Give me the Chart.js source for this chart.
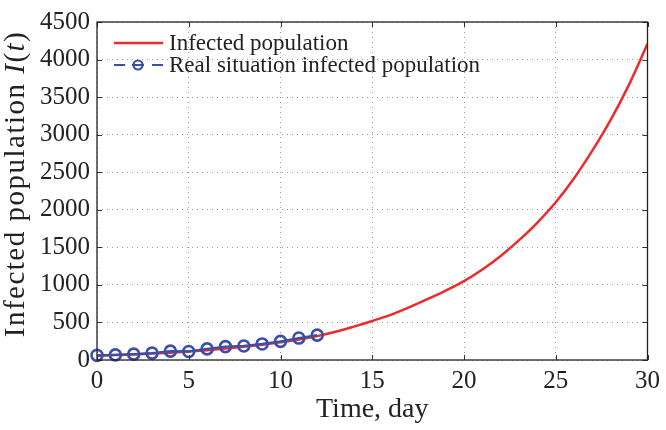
<!DOCTYPE html>
<html>
<head>
<meta charset="utf-8">
<script src="https://cdn.jsdelivr.net/npm/chart.js@4.4.1/dist/chart.umd.min.js"></script>
<style>
  html, body { margin: 0; padding: 0; background: #fff; }
  canvas { display: block; }
</style>
</head>
<body>
<canvas id="infChart" width="666" height="430"></canvas>
<script>
// model curve (day -> infected)
const days = [0, 1, 2, 3, 4, 5, 6, 7, 8, 9, 10, 11, 12, 13, 14, 15, 16, 17, 18, 19, 20, 21, 22, 23, 24, 25, 26, 27, 28, 29, 30];
const modelInfected = [58, 65, 74, 85, 98, 113, 131, 152, 176, 204, 236, 272, 318, 375, 445, 520, 600, 700, 810, 925, 1050, 1205, 1385, 1595, 1830, 2100, 2420, 2790, 3200, 3670, 4210];

// observed points
const realDays = [0, 1, 2, 3, 4, 5, 6, 7, 8, 9, 10, 11, 12];
const realInfected = [62, 68, 78, 92, 118, 114, 148, 178, 187, 214, 248, 292, 331];

const xTicks = [0, 5, 10, 15, 20, 25, 30];
const yTicks = [0, 500, 1000, 1500, 2000, 2500, 3000, 3500, 4000, 4500];

const labels = ["Infected population", "Real situation infected population"];
const RED = "#ee2a2a";
const BLUE = "#3a4fa8";
const SERIF = "'Liberation Serif', 'DejaVu Serif', serif";

// frame, inward ticks, y title and legend drawn on top of the chart
const decorations = {
    id: "decorations",
    afterDraw(chart) {
        const ctx = chart.ctx;
        const a = chart.chartArea;
        const xs = chart.scales.x, ys = chart.scales.y;
        ctx.save();

        // inward tick marks
        ctx.strokeStyle = "#333";
        ctx.lineWidth = 1;
        ctx.beginPath();
        xTicks.forEach(v => {
            const px = Math.round(xs.getPixelForValue(v)) + 0.5;
            ctx.moveTo(px, a.bottom); ctx.lineTo(px, a.bottom - 5);
            ctx.moveTo(px, a.top); ctx.lineTo(px, a.top + 5);
        });
        yTicks.forEach(v => {
            const py = Math.round(ys.getPixelForValue(v)) + 0.5;
            ctx.moveTo(a.left, py); ctx.lineTo(a.left + 5, py);
            ctx.moveTo(a.right, py); ctx.lineTo(a.right - 5, py);
        });
        ctx.stroke();

        // box
        ctx.strokeStyle = "#222";
        ctx.lineWidth = 1.3;
        ctx.strokeRect(a.left, a.top, a.right - a.left, a.bottom - a.top);

        // y title with italic I(t)
        ctx.fillStyle = "#222";
        ctx.textBaseline = "middle";
        ctx.translate(16, 184);
        ctx.rotate(-Math.PI / 2);
        ctx.letterSpacing = "1.5px";
        const plainFont = "29px " + SERIF;
        const italFont = "italic 29px " + SERIF;
        const parts = [["Infected population ", plainFont], ["I", italFont], ["(", plainFont], ["t", italFont], [")", plainFont]];
        let total = 0;
        parts.forEach(([t, f]) => { ctx.font = f; total += ctx.measureText(t).width; });
        let cx = -total / 2;
        ctx.textAlign = "left";
        parts.forEach(([t, f]) => {
            ctx.font = f;
            ctx.fillText(t, cx, 0);
            cx += ctx.measureText(t).width;
        });
        ctx.restore();

        // legend
        ctx.save();
        ctx.font = "23px " + SERIF;
        ctx.fillStyle = "#222";
        ctx.textBaseline = "middle";
        ctx.textAlign = "left";
        const lx = a.left + 17, tx = a.left + 72;
        let ly = a.top + 21;
        ctx.strokeStyle = RED;
        ctx.lineWidth = 2.5;
        ctx.beginPath(); ctx.moveTo(lx, ly); ctx.lineTo(lx + 49, ly); ctx.stroke();
        ctx.fillText(labels[0], tx, ly + 1);

        ly += 22;
        ctx.strokeStyle = BLUE;
        ctx.lineWidth = 2.2;
        ctx.beginPath();
        ctx.moveTo(lx, ly); ctx.lineTo(lx + 11, ly);
        ctx.moveTo(lx + 18, ly); ctx.lineTo(lx + 30, ly);
        ctx.moveTo(lx + 38, ly); ctx.lineTo(lx + 49, ly);
        ctx.stroke();
        ctx.beginPath(); ctx.arc(lx + 24, ly, 4.5, 0, Math.PI * 2); ctx.stroke();
        ctx.fillText(labels[1], tx, ly + 1);
        ctx.restore();
    }
};

const ctx = document.getElementById("infChart").getContext("2d");
new Chart(ctx, {
    type: "line",
    data: {
        datasets: [
            {
                label: labels[0],
                data: days.map((d, i) => ({ x: d, y: modelInfected[i] })),
                borderColor: RED,
                borderWidth: 2.5,
                pointRadius: 0,
                cubicInterpolationMode: "monotone",
                fill: false,
                order: 2
            },
            {
                label: labels[1],
                data: realDays.map((d, i) => ({ x: d, y: realInfected[i] })),
                borderColor: BLUE,
                borderWidth: 2.2,
                pointRadius: 5.5,
                pointBorderWidth: 2.6,
                pointBorderColor: BLUE,
                pointBackgroundColor: "rgba(0,0,0,0)",
                tension: 0,
                fill: false,
                clip: false,
                order: 1
            }
        ]
    },
    options: {
        responsive: false,
        animation: false,
        devicePixelRatio: 1,
        layout: { padding: { top: 16, right: 15, left: 0, bottom: 0 } },
        plugins: { legend: { display: false }, tooltip: { enabled: false } },
        scales: {
            x: {
                type: "linear",
                min: 0, max: 30,
                afterBuildTicks: s => { s.ticks = xTicks.map(v => ({ value: v })); },
                afterFit: s => { s.height = 70; },
                grid: { color: "#9a9a9a", lineWidth: 1, drawTicks: false },
                border: { display: false, dash: [1, 4] },
                ticks: { color: "#222", font: { family: SERIF, size: 25 }, padding: 6, maxRotation: 0, autoSkip: false, callback: v => String(v) },
                title: { display: true, text: "Time, day", color: "#222", font: { family: SERIF, size: 28 }, padding: { top: 0 } }
            },
            y: {
                min: 0, max: 4500,
                afterBuildTicks: s => { s.ticks = yTicks.map(v => ({ value: v })); },
                afterFit: s => { s.width = 97; },
                grid: { color: "#9a9a9a", lineWidth: 1, drawTicks: false },
                border: { display: false, dash: [1, 4] },
                ticks: { color: "#222", font: { family: SERIF, size: 25 }, padding: 7, autoSkip: false, callback: v => String(v) }
            }
        }
    },
    plugins: [decorations]
});
</script>
</body>
</html>
